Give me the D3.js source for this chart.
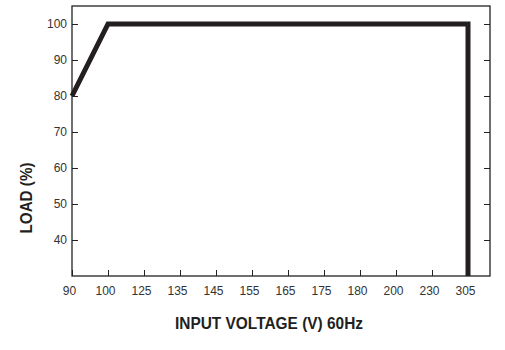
<!DOCTYPE html>
<html>
<head>
<meta charset="utf-8">
<script src="https://cdn.jsdelivr.net/npm/d3@7"></script>
<style>
  body { margin: 0; background: #fff; }
  .tick text { font-family: "Liberation Sans", Arial, sans-serif; font-size: 12px; fill: #333; }
  .tick line { stroke: #222; }
  .title { font-family: "Liberation Sans", Arial, sans-serif; font-weight: bold; fill: #231f20; }
</style>
</head>
<body>
<div class="chart"></div>
<script>
// x categories (evenly spaced on the chart, not linear)
const voltages = ['90', '100', '125', '135', '145', '155', '165', '175', '180', '200', '230', '305'];
const loadTicks = [40, 50, 60, 70, 80, 90, 100];

// derating curve
const curveVoltage = ['90', '100', '305', '305'];
const curveLoad = [80, 100, 100, 30];

const width = 505;
const height = 350;
const plotLeft = 72, plotRight = 490, plotTop = 6, plotBottom = 276;

const svg = d3.select('.chart').append('svg')
.attr('width', width)
.attr('height', height);

const x = d3.scalePoint()
.domain(voltages)
.range([plotLeft, plotLeft + 36 * (voltages.length - 1)]);

const y = d3.scaleLinear()
.domain([30, 105])
.range([plotBottom, plotTop]);

// axes, ticks pointing into the plot
svg.append('g')
.attr('transform', `translate(0,${plotBottom})`)
.call(d3.axisBottom(x).tickSize(-6).tickSizeOuter(0).tickPadding(10))
.call(g => g.select('.domain').remove())
.call(g => g.selectAll('.tick text').attr('dx', -3));

svg.append('g')
.attr('transform', `translate(${plotLeft},0)`)
.call(d3.axisLeft(y).tickValues(loadTicks).tickSize(-6).tickSizeOuter(0).tickPadding(5))
.call(g => g.select('.domain').remove());

svg.append('g')
.attr('transform', `translate(${plotRight},0)`)
.call(d3.axisRight(y).tickValues(loadTicks).tickSize(-6).tickSizeOuter(0).tickFormat(''))
.call(g => g.select('.domain').remove());

// frame
svg.append('rect')
.attr('x', plotLeft)
.attr('y', plotTop)
.attr('width', plotRight - plotLeft)
.attr('height', plotBottom - plotTop)
.attr('fill', 'none')
.attr('stroke', '#222')
.attr('stroke-width', 1.3);

const line = d3.line()
.x(function(d) { return x(d[0]); })
.y(function(d) { return y(d[1]); });

svg.append('path')
.datum(curveVoltage.map(function(v, i) { return [v, curveLoad[i]]; }))
.attr('d', line)
.attr('fill', 'none')
.attr('stroke', '#231f20')
.attr('stroke-width', 5)
.attr('stroke-linejoin', 'miter');

// axis titles
svg.append('text')
.attr('class', 'title')
.attr('x', 269)
.attr('y', 329)
.attr('text-anchor', 'middle')
.style('font-size', '17px')
.attr('textLength', 188)
.attr('lengthAdjust', 'spacingAndGlyphs')
.text('INPUT VOLTAGE (V) 60Hz');

svg.append('text')
.attr('class', 'title')
.attr('transform', 'translate(32,198) rotate(-90)')
.attr('text-anchor', 'middle')
.style('font-size', '17px')
.attr('textLength', 71)
.attr('lengthAdjust', 'spacingAndGlyphs')
.text('LOAD (%)');
</script>
</body>
</html>
